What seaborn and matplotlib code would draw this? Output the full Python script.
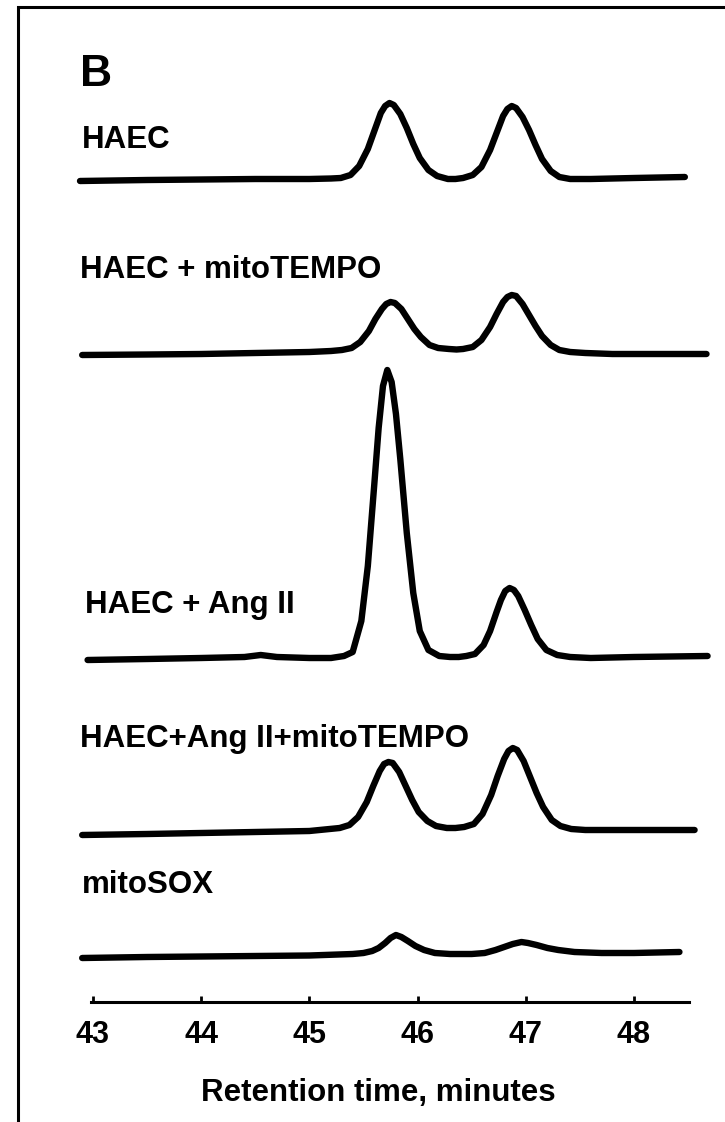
import numpy as np
import pandas as pd
import matplotlib
matplotlib.use("Agg")
import matplotlib.pyplot as plt
import seaborn as sns
from matplotlib.patches import Rectangle

# ---------------- data ----------------
samples = ["HAEC", "HAEC + mitoTEMPO", "HAEC + Ang II",
           "HAEC+Ang II+mitoTEMPO", "mitoSOX"]

t_haec = [42.88, 43.5, 44.0, 44.5, 45.0, 45.20,
          45.29, 45.38, 45.46, 45.54, 45.60, 45.66, 45.70, 45.74,
          45.78, 45.84, 45.90, 45.96, 46.02, 46.10, 46.18, 46.28, 46.35,
          46.42, 46.51, 46.59, 46.67, 46.73, 46.79, 46.83, 46.87,
          46.91, 46.97, 47.03, 47.09, 47.15, 47.23, 47.31, 47.41, 47.6, 48.0, 48.47]
h_haec = [0, 1, 1.5, 2, 2, 2.5,
          3, 6, 15, 32, 50, 68, 75, 78,
          76, 67, 53, 37, 23, 11, 5, 2, 2,
          3, 6, 14, 31, 48, 65, 72, 75,
          73, 64, 51, 36, 22, 10, 4, 2, 2, 3, 4]

t_tempo = [42.9, 43.5, 44.0, 44.5, 45.0, 45.2,
           45.30, 45.39, 45.47, 45.55, 45.61, 45.67, 45.71, 45.75,
           45.79, 45.85, 45.91, 45.97, 46.03, 46.11, 46.19, 46.29, 46.36,
           46.42, 46.51, 46.59, 46.67, 46.73, 46.79, 46.83, 46.87,
           46.91, 46.97, 47.03, 47.09, 47.15, 47.23, 47.31, 47.41, 47.55,
           47.8, 48.2, 48.67]
h_tempo = [0, 0.5, 1, 2, 3, 4,
           5, 7, 13, 24, 36, 46, 51, 53,
           52, 46, 36, 26, 18, 10, 7, 6, 5.5,
           6, 8, 15, 28, 41, 53, 58, 60,
           59, 51, 40, 29, 19, 10, 5, 3, 2,
           1, 1, 1]

t_ang = [42.95, 43.5, 44.0, 44.4, 44.55, 44.7, 45.0, 45.2,
         45.32, 45.40, 45.48, 45.54, 45.60, 45.64, 45.68, 45.72,
         45.76, 45.80, 45.84, 45.90, 45.96, 46.02, 46.10, 46.20, 46.30, 46.38,
         46.45, 46.53, 46.61, 46.67, 46.73, 46.77, 46.81, 46.85,
         46.89, 46.93, 46.99, 47.05, 47.11, 47.19, 47.29, 47.41,
         47.6, 48.0, 48.68]
h_ang = [0, 1, 2, 3, 5, 3, 2, 2,
         4, 8, 39, 94, 176, 232, 274, 290,
         278, 246, 201, 127, 67, 29, 10, 4, 3, 3,
         4, 6, 15, 29, 48, 60, 69, 72,
         70, 64, 50, 35, 21, 10, 5, 3,
         2, 3, 4]

t_ang_tempo = [42.9, 43.5, 44.0, 44.5, 45.0,
               45.28, 45.37, 45.45, 45.53, 45.59, 45.65, 45.69, 45.73,
               45.77, 45.83, 45.89, 45.95, 46.01, 46.09, 46.17, 46.27, 46.35,
               46.43, 46.52, 46.60, 46.68, 46.74, 46.80, 46.84, 46.88,
               46.92, 46.98, 47.04, 47.10, 47.16, 47.24, 47.32, 47.42, 47.55,
               47.8, 48.2, 48.56]
h_ang_tempo = [0, 1, 2, 3, 4,
               7, 10, 18, 33, 49, 64, 71, 73,
               72, 63, 49, 35, 23, 14, 9, 7, 7,
               8, 11, 21, 40, 59, 76, 84, 87,
               85, 74, 58, 42, 28, 15, 9, 6, 5,
               5, 5, 5]

t_sox = [42.9, 43.5, 44.0, 44.5, 45.0, 45.40,
         45.50, 45.58, 45.64, 45.70, 45.75, 45.80,
         45.85, 45.91, 45.98, 46.06, 46.16, 46.30,
         46.50, 46.62, 46.72, 46.80, 46.88, 46.96,
         47.02, 47.10, 47.20, 47.30, 47.45, 47.7, 48.0, 48.42]
h_sox = [0, 1, 1.5, 2, 2.5, 4,
         5, 7, 10, 15, 20, 23,
         21, 17, 12, 8, 5, 4,
         4, 5, 8, 11, 14, 16,
         15, 13, 10, 8, 6, 5, 5, 6]

tick_vals = [43, 44, 45, 46, 47, 48]
xlabel = "Retention time, minutes"
panel_letter = "B"

# ---------------- layout ----------------
W, H = 725, 1122
axis_px = 1002                      # y pixel of x-axis
px_per_min = 108.2
x43_px = 93
baseline_px = [181, 355, 660, 835, 958]   # baseline y pixel of each trace
label_pos = [(82, 140), (80, 270), (85, 605), (80, 739), (82, 885)]

traces = [(t_haec, h_haec), (t_tempo, h_tempo), (t_ang, h_ang),
          (t_ang_tempo, h_ang_tempo), (t_sox, h_sox)]

rows = []
for name, (tt, hh), bp in zip(samples, traces, baseline_px):
    off = axis_px - bp
    for a, b in zip(tt, hh):
        rows.append({"sample": name, "t": a, "y": b + off})
df = pd.DataFrame(rows)

sns.set_theme(style="white")
plt.rcParams['font.family'] = ['Liberation Sans', 'DejaVu Sans']
plt.rcParams['text.color'] = 'black'
plt.rcParams['axes.labelcolor'] = 'black'
plt.rcParams['xtick.color'] = 'black'

fig = plt.figure(figsize=(W / 100, H / 100), dpi=100)
ax = fig.add_axes([0, (H - axis_px) / H, 1, axis_px / H])
ax.patch.set_alpha(0)

for name in samples:
    sub = df[df["sample"] == name]
    sns.lineplot(data=sub, x="t", y="y", ax=ax, color="black", lw=4.6,
                 sort=False, estimator=None, legend=False,
                 solid_capstyle="round", solid_joinstyle="round")

ax.set_xlim(43 - x43_px / px_per_min, 43 + (W - x43_px) / px_per_min)
ax.set_ylim(0, axis_px)
for s in ["top", "left", "right"]:
    ax.spines[s].set_visible(False)
ax.spines["bottom"].set_linewidth(2.2)
ax.spines["bottom"].set_color("black")
ax.spines["bottom"].set_bounds(42.98, 48.51)
ax.set_yticks([])
ax.set_xticks(tick_vals)
ax.set_xticklabels([str(v) for v in tick_vals])
ax.tick_params(axis="x", bottom=True, direction="in", length=4.5, width=2,
               color="black", pad=13, labelsize=22, labelcolor="black")
for lab in ax.get_xticklabels():
    lab.set_fontweight("bold")
ax.set_xlabel(xlabel, fontsize=22.5, fontweight="bold", color="black")
ax.xaxis.set_label_coords(378 / W, -76 / axis_px)
ax.set_ylabel("")

for name, (lx, ly) in zip(samples, label_pos):
    fig.text(lx / W, 1 - ly / H, name, fontsize=22.5, fontweight="bold",
             ha="left", va="center", color="black")
fig.text(80 / W, 1 - 74 / H, panel_letter, fontsize=32, fontweight="bold",
         ha="left", va="center", color="black")

# outer frame (extends past right/bottom edges)
fig.patches.append(Rectangle((17.5 / W, -0.2), 1.5, 1.2 - 6.5 / H,
                             transform=fig.transFigure, fill=False,
                             lw=2.2, ec="black", clip_on=False))

fig.savefig("out.png", dpi=100)
